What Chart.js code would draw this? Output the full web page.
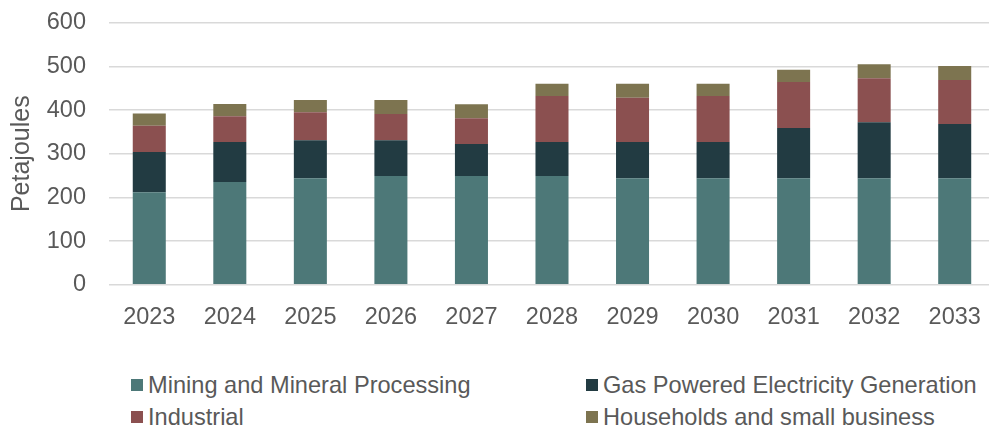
<!DOCTYPE html>
<html>
<head>
<meta charset="utf-8">
<script src="https://cdn.jsdelivr.net/npm/chart.js@4.4.1/dist/chart.umd.min.js"></script>
<style>
  html, body { margin: 0; padding: 0; background: #fff; overflow: hidden; width: 989px; height: 428px; }
  #wrap { position: relative; width: 989px; height: 428px; overflow: hidden; }
  #gasChart { position: absolute; left: 0; top: 0; }
  #legend {
    position: absolute; left: 131px; top: 369px;
    display: grid; grid-template-columns: 455px auto;
    font-family: "Liberation Sans", Arial, sans-serif; font-size: 23.6px; color: #595959;
  }
  .legend-item { display: flex; align-items: center; height: 32px; white-space: nowrap; }
  .legend-swatch { width: 11.5px; height: 11.5px; margin-right: 5.5px; flex: none; }
</style>
</head>
<body>
<div id="wrap">
  <canvas id="gasChart" width="1000" height="340"></canvas>
  <div id="legend"></div>
</div>
<script>
document.addEventListener('DOMContentLoaded', () => {

  const years = ['2023', '2024', '2025', '2026', '2027', '2028', '2029', '2030', '2031', '2032', '2033'];

  // Gas demand by sector, petajoules
  const mining     = [212, 235, 244, 249, 249, 249, 244, 244, 244, 244, 244];
  const gasPower   = [92, 92, 87, 82, 73, 78, 83, 83, 115, 128, 124];
  const industrial = [60, 59, 64, 60, 59, 105, 101, 105, 105, 101, 101];
  const households = [28, 28, 28, 32, 32, 28, 32, 28, 28, 32, 32];

  const seriesNames = [
    'Mining and Mineral Processing',
    'Gas Powered Electricity Generation',
    'Industrial',
    'Households and small business'
  ];
  const seriesColors = ['#4d7878', '#223b42', '#8b5050', '#7d7450'];

  const yTicks = [0, 100, 200, 300, 400, 500, 600];

  const textColor = '#595959';
  const fontFamily = '"Liberation Sans", Arial, sans-serif';

  const datasets = [mining, gasPower, industrial, households].map((values, i) => ({
    label: seriesNames[i],
    data: values,
    backgroundColor: seriesColors[i],
    borderWidth: 0,
    categoryPercentage: 1,
    barPercentage: 0.41
  }));

  const ctx = document.getElementById('gasChart').getContext('2d');
  const chart = new Chart(ctx, {
    type: 'bar',
    data: { labels: years, datasets: datasets },
    options: {
      responsive: false,
      animation: false,
      layout: { padding: { top: 22.7, right: 3.3, bottom: 0, left: 0 } },
      plugins: {
        legend: { display: false },
        tooltip: { enabled: false }
      },
      scales: {
        x: {
          stacked: true,
          grid: { display: false, drawTicks: false },
          border: { display: false },
          ticks: {
            color: textColor,
            font: { family: fontFamily, size: 23.5 },
            padding: 19
          },
          afterFit(scale) { scale.height = 340 - 284.7; }
        },
        y: {
          stacked: true,
          min: yTicks[0],
          max: yTicks[yTicks.length - 1],
          ticks: {
            stepSize: 100,
            color: textColor,
            font: { family: fontFamily, size: 23.5 },
            padding: 0
          },
          // invisible tick marks keep the labels clear of the plot
          // without pushing the plot area down
          grid: {
            color: '#d9d9d9',
            lineWidth: 1.5,
            drawTicks: true,
            tickLength: 23,
            tickColor: 'rgba(0,0,0,0)'
          },
          border: { display: false },
          title: {
            display: true,
            text: 'Petajoules',
            color: textColor,
            font: { family: fontFamily, size: 25 },
            padding: { top: 7, bottom: 0 }
          },
          afterFit(scale) { scale.width = 109; }
        }
      }
    }
  });

  // Two-column legend built from the chart's datasets
  const legendEl = document.getElementById('legend');
  chart.data.datasets.forEach(ds => {
    const item = document.createElement('div');
    item.className = 'legend-item';
    const swatch = document.createElement('span');
    swatch.className = 'legend-swatch';
    swatch.style.background = ds.backgroundColor;
    const label = document.createElement('span');
    label.textContent = ds.label;
    item.appendChild(swatch);
    item.appendChild(label);
    legendEl.appendChild(item);
  });

});
</script>
</body>
</html>
